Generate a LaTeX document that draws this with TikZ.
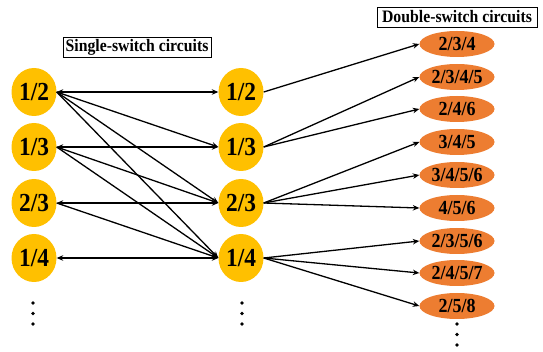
\documentclass[tikz,border=0pt]{standalone}
\usepackage{fontspec}
\setmainfont{Liberation Serif}
\usetikzlibrary{shapes.geometric,arrows.meta}
\definecolor{gold}{HTML}{FFC000}
\definecolor{orng}{HTML}{ED7D31}
\newcommand\narrow[1]{\scalebox{0.9}[1]{#1}}
\tikzset{
  single/.style={ellipse, fill=gold, minimum width=45pt, minimum height=48pt, inner sep=0pt,
    font=\fontsize{26}{26}\selectfont\bfseries},
  double/.style={ellipse, fill=orng, minimum width=75pt, minimum height=26pt, inner sep=0pt,
    font=\fontsize{20}{20}\selectfont\bfseries},
  caption/.style={draw, line width=0.8pt, minimum height=20pt, inner sep=2pt,
    font=\fontsize{17.5}{17.5}\selectfont\bfseries},
  tip/.tip={Stealth[length=6.5pt,width=5.5pt]},
  link/.style={line width=1.3pt, -tip},
  both/.style={line width=1.3pt, tip-tip},
}
\begin{document}
\begin{tikzpicture}[x=1pt,y=-1pt]
\useasboundingbox (0,0) rectangle (543,352);

% captions
\node[caption, minimum width=148pt] (capS) at (137,47) {\narrow{Single-switch circuits}};
\node[caption, minimum width=160pt] (capD) at (457,17) {\narrow{Double-switch circuits}};

% single-switch circuits, left column
\node[single] (a12) at (34,92)  {\narrow{1/2}};
\node[single] (a13) at (34,147) {\narrow{1/3}};
\node[single] (a23) at (34,203) {\narrow{2/3}};
\node[single] (a14) at (34,258) {\narrow{1/4}};

% single-switch circuits, middle column
\node[single] (b12) at (241,92)  {\narrow{1/2}};
\node[single] (b13) at (241,147) {\narrow{1/3}};
\node[single] (b23) at (241,203) {\narrow{2/3}};
\node[single] (b14) at (241,258) {\narrow{1/4}};

% double-switch circuits
\node[double] (c1) at (457,44)  {\narrow{2/3/4}};
\node[double] (c2) at (457,77)  {\narrow{2/3/4/5}};
\node[double] (c3) at (457,109) {\narrow{2/4/6}};
\node[double] (c4) at (457,142) {\narrow{3/4/5}};
\node[double] (c5) at (457,175) {\narrow{3/4/5/6}};
\node[double] (c6) at (457,208) {\narrow{4/5/6}};
\node[double] (c7) at (457,241) {\narrow{2/3/5/6}};
\node[double] (c8) at (457,273) {\narrow{2/4/5/7}};
\node[double] (c9) at (457,306) {\narrow{2/5/8}};

% continuation dots
\foreach \y in {303,313.5,324} {
  \fill (33,\y) circle (1.8pt);
  \fill (242,\y) circle (1.8pt);
}
\foreach \y in {324,334.5,345} \fill (457,\y) circle (1.8pt);

% left to middle
\draw[both] (a12.east) -- (b12.west);
\draw[link] (a12.east) -- (b13.west);
\draw[link] (a12.east) -- (b23.west);
\draw[link] (a12.east) -- (b14.west);
\draw[both] (a13.east) -- (b13.west);
\draw[link] (a13.east) -- (b23.west);
\draw[link] (a13.east) -- (b14.west);
\draw[both] (a23.east) -- (b23.west);
\draw[link] (a23.east) -- (b14.west);
\draw[both] (a14.east) -- (b14.west);

% middle to right
\draw[link] (b12.east) -- (c1.west);
\draw[link] (b13.east) -- (c2.west);
\draw[link] (b13.east) -- (c3.west);
\draw[link] (b23.east) -- (c4.west);
\draw[link] (b23.east) -- (c5.west);
\draw[link] (b23.east) -- (c6.west);
\draw[link] (b14.east) -- (c7.west);
\draw[link] (b14.east) -- (c8.west);
\draw[link] (b14.east) -- (c9.west);
\end{tikzpicture}
\end{document}
